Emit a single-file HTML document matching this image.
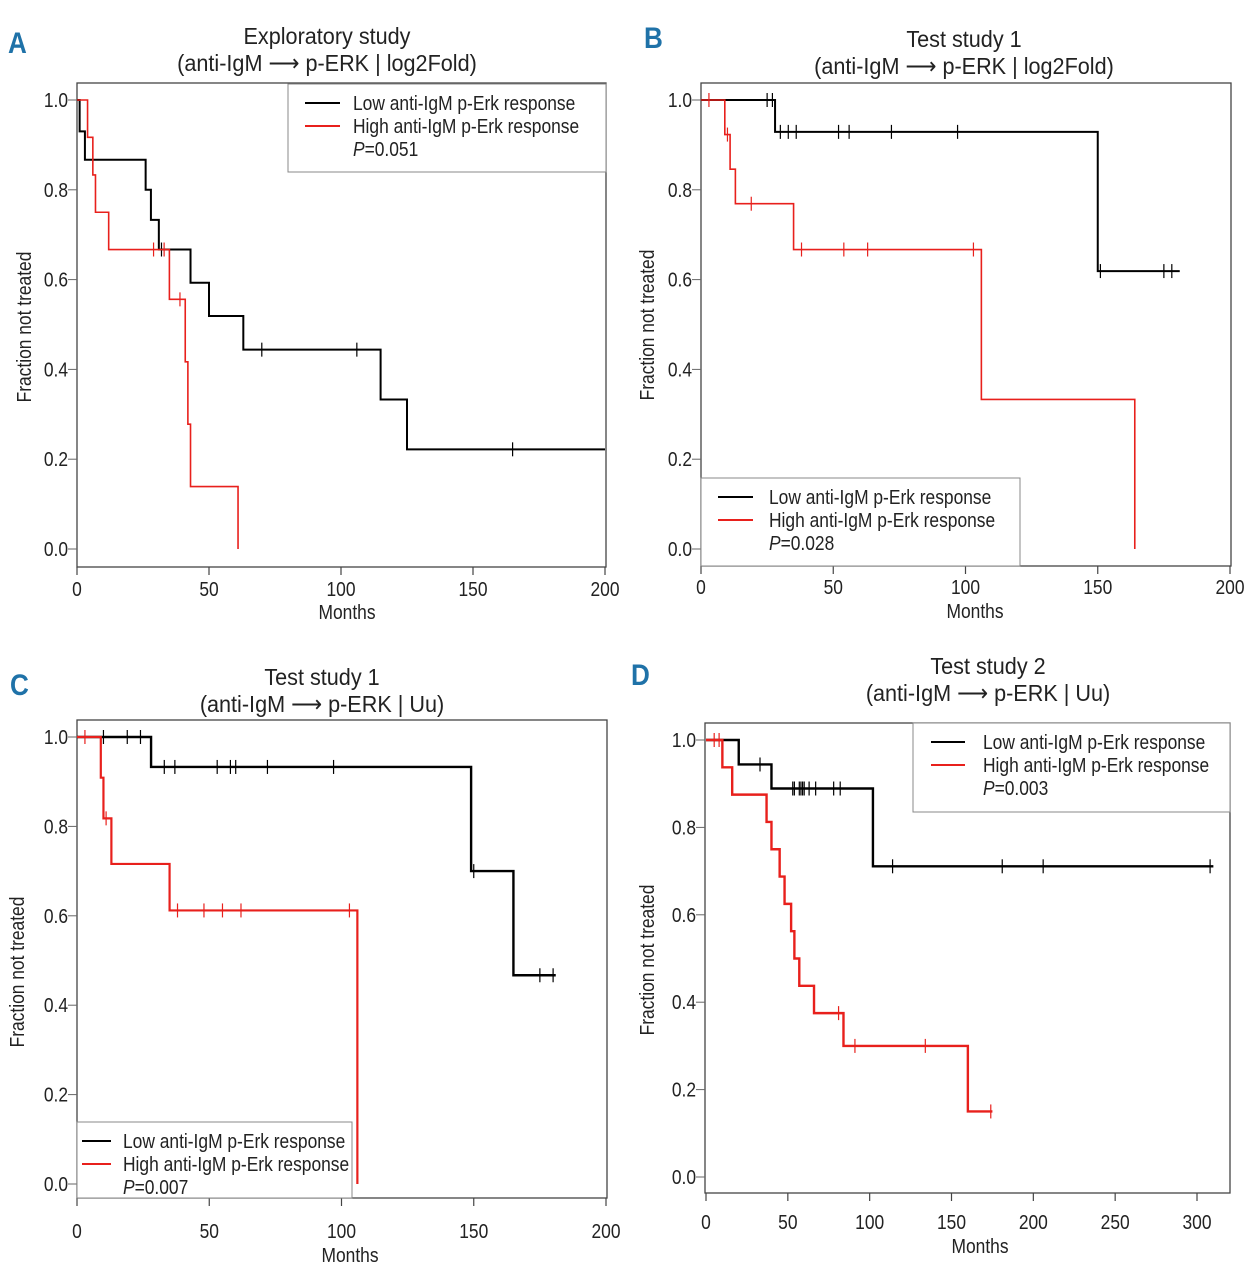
<!DOCTYPE html>
<html><head><meta charset="utf-8"><style>
html,body{margin:0;padding:0;background:#fff;}
svg text{font-family:"Liberation Sans Narrow","Liberation Sans",sans-serif;fill:#222;}
</style></head><body>
<svg id="fig" width="1254" height="1280" viewBox="0 0 1254 1280" xmlns="http://www.w3.org/2000/svg"></svg>
<script>
// Panel A
const aLowT=[0,1,3,26,28,31,43,50,63,115,125];
const aLowS=[1,0.93,0.867,0.8,0.733,0.667,0.593,0.519,0.444,0.333,0.222];
const aLowEnd=200;
const aLowCens=[32,70,106,165];
const aHighT=[0,4,6,7,12,35,41,42,43,61];
const aHighS=[1,0.917,0.833,0.75,0.667,0.556,0.417,0.278,0.139,0];
const aHighEnd=61;
const aHighCens=[29,33,39];
// Panel B
const bLowT=[0,28,150];
const bLowS=[1,0.929,0.619];
const bLowEnd=181;
const bLowCens=[25,27,30,33,36,52,56,72,97,151,175,178];
const bHighT=[0,9,11,13,35,106,164];
const bHighS=[1,0.923,0.846,0.769,0.667,0.333,0];
const bHighEnd=164;
const bHighCens=[3,10,19,38,54,63,103];
// Panel C
const cLowT=[0,28,149,165];
const cLowS=[1,0.933,0.7,0.467];
const cLowEnd=181;
const cLowCens=[10,19,24,33,37,53,58,60,72,97,150,175,180];
const cHighT=[0,9,10,13,35,106];
const cHighS=[1,0.909,0.818,0.716,0.612,0];
const cHighEnd=106;
const cHighCens=[3,11,38,48,55,62,103];
// Panel D
const dLowT=[0,20,40,102];
const dLowS=[1,0.944,0.889,0.711];
const dLowEnd=310;
const dLowCens=[33,53,54,57,58,59,60,63,67,78,82,114,181,206,308];
const dHighT=[0,10,16,37,40,45,48,52,54,57,66,84,160];
const dHighS=[1,0.9375,0.875,0.8125,0.75,0.6875,0.625,0.5625,0.5,0.4375,0.375,0.3,0.15];
const dHighEnd=175;
const dHighCens=[5,8,81,91,134,174];
const xTicksA=[0,50,100,150,200];
const xTicksD=[0,50,100,150,200,250,300];
const yTicks=[0,0.2,0.4,0.6,0.8,1.0];

const NS="http://www.w3.org/2000/svg";
const svg=document.getElementById('fig');
let SX=0.87;
function mk(tag,attrs,parent,text){const e=document.createElementNS(NS,tag);for(const k in attrs)e.setAttribute(k,attrs[k]);if(text!==undefined)e.textContent=text;(parent||svg).appendChild(e);return e;}
function txt(x,y,attrs,parent,text,rot,sx){const a=Object.assign({},attrs);a.x=0;a.y=0;a.transform=`translate(${x},${y})`+(rot?' rotate(-90)':'')+` scale(${sx||SX},1)`;return mk('text',a,parent,text);}

function panel(p){
  const g=mk('g',{});
  
  
  const xs=v=>p.x0+(v-p.xmin)*(p.x1-p.x0)/(p.xmax-p.xmin);
  const ys=v=>p.y0+(p.y1-p.y0)*v;
  const box=mk('rect',{x:p.bx0,y:p.by0,width:p.bx1-p.bx0,height:p.by1-p.by0,fill:'none',stroke:'#444','stroke-width':1.3},g);
  
  
  const L=txt(p.lx,p.ly,{'font-size':30,'font-weight':'bold',style:'fill:#1f72a8'},g,p.id);
  
  
  p.title.forEach((t,i)=>{const e=txt(p.tx,p.ty+i*27,{'font-size':23,'text-anchor':'middle'},g,t,false,0.94);
    
    });
  p.xt.forEach(v=>{mk('line',{x1:xs(v),x2:xs(v),y1:p.by1,y2:p.by1+8,stroke:'#444','stroke-width':1.2},g);
    const e=txt(xs(v),p.by1+p.xto,{'font-size':20,'text-anchor':'middle'},g,String(v));
    
    });
  yTicks.forEach(v=>{mk('line',{x1:p.bx0-9,x2:p.bx0,y1:ys(v),y2:ys(v),stroke:'#666','stroke-width':1},g);
    const e=txt(p.bx0-9,ys(v)+7,{'font-size':20,'text-anchor':'end'},g,v.toFixed(1));
    
    });
  const xl=txt(p.xlx,p.xly,{'font-size':20,'text-anchor':'middle'},g,'Months');
  
  
  const yl=txt(p.ylx,p.yly,{'font-size':20,'text-anchor':'middle'},g,'Fraction not treated',true);
  
  
  p.series.forEach(s=>{
    let d=`M${xs(s.t[0])},${ys(s.s[0])}`;
    for(let i=1;i<s.t.length;i++){d+=` H${xs(s.t[i])} V${ys(s.s[i])}`;}
    d+=` H${xs(s.end)}`;
    const path=mk('path',{d:d,fill:'none',stroke:s.c,'stroke-width':s.w},g);
    
    
    s.cens.forEach(t=>{let sv=s.s[0];for(let i=0;i<s.t.length;i++)if(s.t[i]<=t)sv=s.s[i];
      const m=mk('line',{x1:xs(t),x2:xs(t),y1:ys(sv)-7,y2:ys(sv)+7,stroke:s.c,'stroke-width':1.2},g);
      
      });
  });
  const lg=mk('g',{},g);
  
  
  mk('rect',{x:p.lg[0],y:p.lg[1],width:p.lg[2],height:p.lg[3],fill:'#fff',stroke:'#888','stroke-width':1},lg);
  const lx=p.lg[0]+p.lo,ly=p.lg[1]+19,tx=p.lg[0]+p.to;
  mk('line',{x1:lx,x2:lx+p.ll,y1:ly,y2:ly,stroke:'#000','stroke-width':2},lg);
  mk('line',{x1:lx,x2:lx+p.ll,y1:ly+23,y2:ly+23,stroke:'#e8201c','stroke-width':2},lg);
  const t1=txt(tx,ly+7,{'font-size':20},lg,'Low anti-IgM p-Erk response');
  
  
  const t2=txt(tx,ly+30,{'font-size':20},lg,'High anti-IgM p-Erk response');
  
  
  const t3=txt(tx,ly+53,{'font-size':20},lg);
  t3.innerHTML='<tspan font-style="italic">P</tspan>='+p.pv;
  
  
}
panel({id:'A',x0:77,x1:605,xmin:0,xmax:200,y0:549,y1:100,bx0:77,bx1:606,by0:83,by1:567,xt:xTicksA,xto:29,
  lx:8,ly:53,tx:327,ty:44,title:['Exploratory study','(anti-IgM \u27f6 p-ERK | log2Fold)'],
  xlx:347,xly:619,ylx:31,yly:327,lg:[288,84,318,88],lo:17,ll:35,to:65,pv:'0.051',
  series:[{name:'low-response-curve',t:aLowT,s:aLowS,end:aLowEnd,cens:aLowCens,c:'#000',w:2},
          {name:'high-response-curve',t:aHighT,s:aHighS,end:aHighEnd,cens:aHighCens,c:'#e8201c',w:1.6}]});
panel({id:'B',x0:701,x1:1230,xmin:0,xmax:200,y0:549,y1:100,bx0:701,bx1:1231,by0:83,by1:566,xt:xTicksA,xto:28,
  lx:644,ly:48,tx:964,ty:47,title:['Test study 1','(anti-IgM \u27f6 p-ERK | log2Fold)'],
  xlx:975,xly:618,ylx:654,yly:325,lg:[701,478,319,88],lo:17,ll:35,to:68,pv:'0.028',
  series:[{name:'low-response-curve',t:bLowT,s:bLowS,end:bLowEnd,cens:bLowCens,c:'#000',w:2},
          {name:'high-response-curve',t:bHighT,s:bHighS,end:bHighEnd,cens:bHighCens,c:'#e8201c',w:1.6}]});
panel({id:'C',x0:77,x1:606,xmin:0,xmax:200,y0:1184,y1:737,bx0:77,bx1:607,by0:720,by1:1198,xt:xTicksA,xto:40,
  lx:10,ly:695,tx:322,ty:685,title:['Test study 1','(anti-IgM \u27f6 p-ERK | Uu)'],
  xlx:350,xly:1262,ylx:24,yly:972,lg:[77,1122,275,76],lo:5,ll:29,to:46,pv:'0.007',
  series:[{name:'low-response-curve',t:cLowT,s:cLowS,end:cLowEnd,cens:cLowCens,c:'#000',w:2.4},
          {name:'high-response-curve',t:cHighT,s:cHighS,end:cHighEnd,cens:cHighCens,c:'#e8201c',w:2.2}]});
panel({id:'D',x0:706,x1:1197,xmin:0,xmax:300,y0:1177,y1:740,bx0:705,bx1:1230,by0:723,by1:1193,xt:xTicksD,xto:36,
  lx:631,ly:685,tx:988,ty:674,title:['Test study 2','(anti-IgM \u27f6 p-ERK | Uu)'],
  xlx:980,xly:1253,ylx:654,yly:960,lg:[913,723,317,89],lo:18,ll:34,to:70,pv:'0.003',
  series:[{name:'low-response-curve',t:dLowT,s:dLowS,end:dLowEnd,cens:dLowCens,c:'#000',w:2.4},
          {name:'high-response-curve',t:dHighT,s:dHighS,end:dHighEnd,cens:dHighCens,c:'#e8201c',w:2.4}]});
</script>
</body></html>
